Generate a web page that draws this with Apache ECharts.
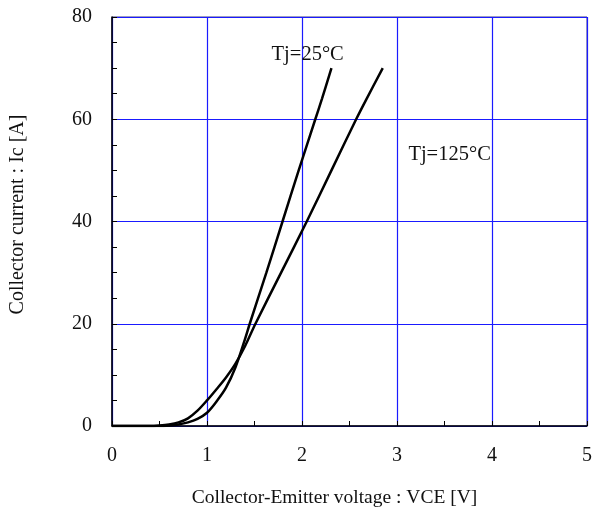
<!DOCTYPE html>
<html>
<head>
<meta charset="utf-8">
<script src="https://cdn.jsdelivr.net/npm/echarts@6/dist/echarts.min.js"></script>
<style>html,body{margin:0;padding:0;background:#fff}#c{width:595px;height:513px}</style>
</head>
<body>
<div id="c"></div>
<script>
// Tj = 25°C : [VCE (V), Ic (A)]
var curve25 = [[0,0],[0.5,0],[0.6,0.1],[0.7,0.3],[0.8,0.7],[0.9,1.4],[1.0,2.6],[1.1,4.8],[1.2,7.5],[1.3,11.5],[1.4,17],[1.45,20],[1.625,30],[1.795,40],[1.965,50],[2.14,60],[2.21,64],[2.31,70]];
// Tj = 125°C
var curve125 = [[0,0],[0.4,0],[0.5,0.1],[0.6,0.3],[0.7,0.7],[0.8,1.5],[0.9,3],[1.0,5],[1.1,7.2],[1.2,9.5],[1.3,12.2],[1.4,15.6],[1.51,20],[1.78,30],[2.05,40],[2.31,50],[2.57,60],[2.68,64],[2.85,70]];
var label25 = {text: 'Tj=25°C', coord: [1.68, 72.6]};
var label125 = {text: 'Tj=125°C', coord: [3.12, 53.0]};
var xTitle = 'Collector-Emitter voltage : VCE [V]';
var yTitle = 'Collector current : Ic [A]';

var font = '"Liberation Serif","Times New Roman",serif';
var chart = echarts.init(document.getElementById('c'));
function mp(l) {
  return {
    symbol: 'circle', symbolSize: 0, animation: false,
    data: [{coord: l.coord, value: l.text}],
    label: {show: true, position: [0, 0], align: 'left', verticalAlign: 'middle',
      formatter: l.text, color: '#111', fontFamily: font, fontSize: 20.5}
  };
}
chart.setOption({
  animation: false,
  grid: {left: 109, top: 17, right: 3, bottom: 87, show: true, borderColor: '#3a3a80', borderWidth: 1},
  xAxis: {
    type: 'value', min: 0, max: 5, interval: 1,
    name: xTitle, nameLocation: 'middle', nameGap: 62,
    nameTextStyle: {fontFamily: font, fontSize: 19.5, color: '#111', padding: [0, 30, 0, 0]},
    axisLine: {show: true, onZero: false, lineStyle: {color: '#000', width: 1.5}},
    axisTick: {show: true, inside: true, length: 5, lineStyle: {color: '#000'}},
    minorTick: {show: true, splitNumber: 2, length: 5, lineStyle: {color: '#000'}},
    axisLabel: {fontFamily: font, fontSize: 20, color: '#111', margin: 20},
    splitLine: {show: true, lineStyle: {color: '#1a1aff', width: 1.2}}
  },
  yAxis: {
    type: 'value', min: 0, max: 80, interval: 20,
    name: yTitle, nameLocation: 'middle', nameGap: 84, nameRotate: 90,
    nameTextStyle: {fontFamily: font, fontSize: 20, color: '#111', padding: [0, 0, 0, 14]},
    axisLine: {show: true, onZero: false, lineStyle: {color: '#000', width: 1.5}},
    axisTick: {show: true, inside: true, length: 5, lineStyle: {color: '#000'}},
    minorTick: {show: true, splitNumber: 4, length: 5, lineStyle: {color: '#000'}},
    axisLabel: {fontFamily: font, fontSize: 20, color: '#111', margin: 20},
    splitLine: {show: true, lineStyle: {color: '#1a1aff', width: 1.2}}
  },
  series: [
    {type: 'line', data: curve25, smooth: 0.3, showSymbol: false, lineStyle: {color: '#000', width: 2.5}, markPoint: mp(label25)},
    {type: 'line', data: curve125, smooth: 0.3, showSymbol: false, lineStyle: {color: '#000', width: 2.5}, markPoint: mp(label125)}
  ]
});
</script>
</body>
</html>
